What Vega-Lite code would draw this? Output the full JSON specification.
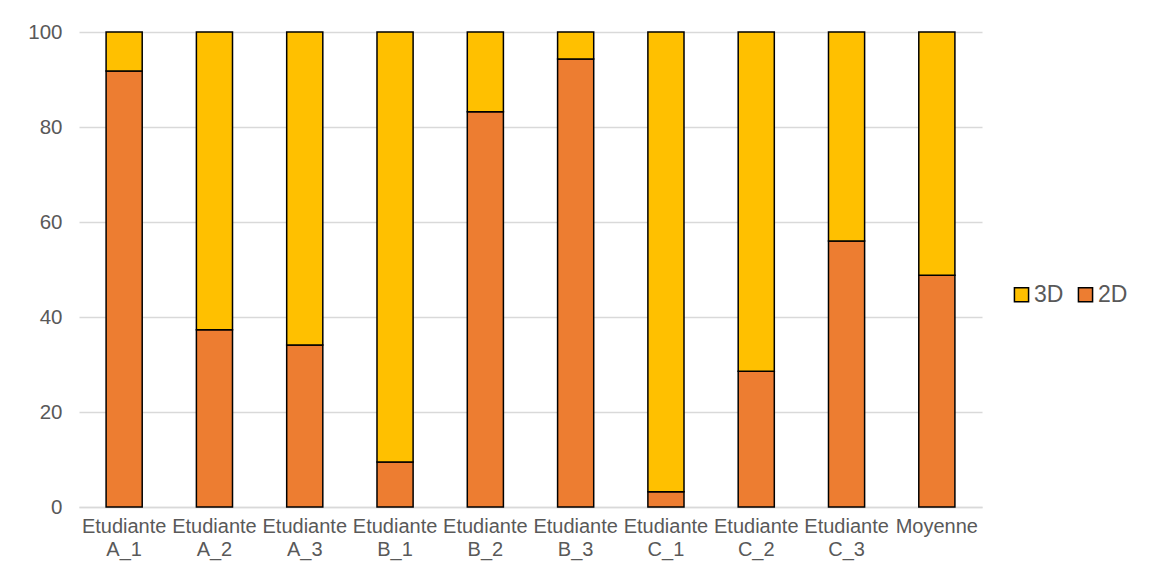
{
  "$schema": "https://vega.github.io/schema/vega-lite/v6.json",
  "width": 903,
  "height": 475,
  "autosize": {"type": "none"},
  "padding": {"left": 79, "top": 32, "right": 169, "bottom": 65},
  "background": "white",
  "config": {
    "font": "Liberation Sans",
    "view": {"stroke": null}
  },
  "data": {
    "values": [
      {"cat": "Etudiante A_1", "type": "2D", "value": 91.8},
      {"cat": "Etudiante A_1", "type": "3D", "value": 8.2},
      {"cat": "Etudiante A_2", "type": "2D", "value": 37.3},
      {"cat": "Etudiante A_2", "type": "3D", "value": 62.7},
      {"cat": "Etudiante A_3", "type": "2D", "value": 34.1},
      {"cat": "Etudiante A_3", "type": "3D", "value": 65.9},
      {"cat": "Etudiante B_1", "type": "2D", "value": 9.5},
      {"cat": "Etudiante B_1", "type": "3D", "value": 90.5},
      {"cat": "Etudiante B_2", "type": "2D", "value": 83.2},
      {"cat": "Etudiante B_2", "type": "3D", "value": 16.8},
      {"cat": "Etudiante B_3", "type": "2D", "value": 94.3},
      {"cat": "Etudiante B_3", "type": "3D", "value": 5.7},
      {"cat": "Etudiante C_1", "type": "2D", "value": 3.2},
      {"cat": "Etudiante C_1", "type": "3D", "value": 96.8},
      {"cat": "Etudiante C_2", "type": "2D", "value": 28.6},
      {"cat": "Etudiante C_2", "type": "3D", "value": 71.4},
      {"cat": "Etudiante C_3", "type": "2D", "value": 56.0},
      {"cat": "Etudiante C_3", "type": "3D", "value": 44.0},
      {"cat": "Moyenne", "type": "2D", "value": 48.8},
      {"cat": "Moyenne", "type": "3D", "value": 51.2}
    ]
  },
  "mark": {"type": "bar", "stroke": "black", "strokeWidth": 1.5},
  "encoding": {
    "x": {
      "field": "cat",
      "type": "nominal",
      "sort": null,
      "scale": {"paddingInner": 0.6, "paddingOuter": 0.3},
      "axis": {
        "title": null,
        "labelAngle": 0,
        "labelExpr": "split(datum.label, ' ')",
        "labelFontSize": 20,
        "labelColor": "#595959",
        "labelPadding": 9,
        "labelLineHeight": 23,
        "ticks": false,
        "domainColor": "#d9d9d9",
        "domainWidth": 1.5
      }
    },
    "y": {
      "field": "value",
      "type": "quantitative",
      "stack": "zero",
      "scale": {"domain": [0, 100], "nice": false},
      "axis": {
        "title": null,
        "values": [0, 20, 40, 60, 80, 100],
        "labelFontSize": 20.5,
        "labelColor": "#595959",
        "labelPadding": 17,
        "ticks": false,
        "domain": false,
        "gridColor": "#d9d9d9",
        "gridWidth": 1.5
      }
    },
    "color": {
      "field": "type",
      "type": "nominal",
      "scale": {"domain": ["3D", "2D"], "range": ["#FFC000", "#ED7D31"]},
      "legend": {
        "title": null,
        "orient": "none",
        "legendX": 931,
        "legendY": 251,
        "direction": "horizontal",
        "symbolType": "square",
        "symbolSize": 200,
        "symbolStrokeColor": "black",
        "symbolStrokeWidth": 1.5,
        "labelFontSize": 23,
        "labelColor": "#595959",
        "labelOffset": 1,
        "columnPadding": 10
      }
    },
    "order": {"field": "type", "sort": "ascending"}
  }
}
